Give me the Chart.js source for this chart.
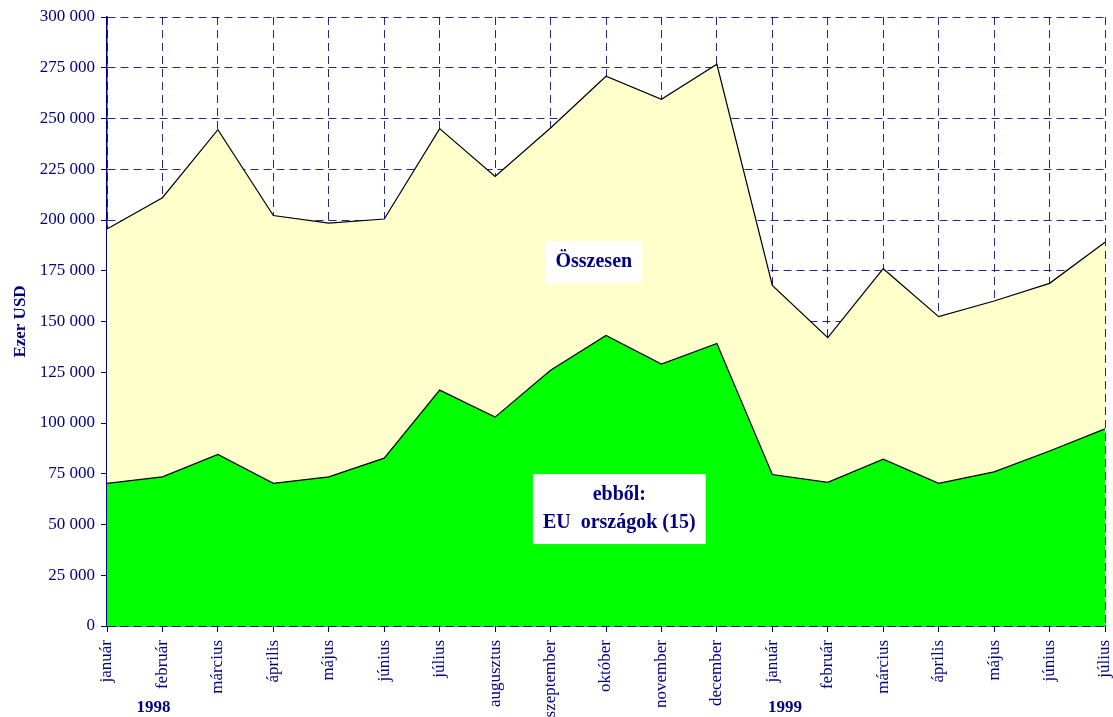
<!DOCTYPE html>
<html>
<head>
<meta charset="utf-8">
<script src="https://cdn.jsdelivr.net/npm/chart.js@4"></script>
<style>
  html, body { margin: 0; padding: 0; background: #fff; }
  #wrap { width: 1113px; height: 717px; }
</style>
</head>
<body>
<div id="wrap"><canvas id="chart" width="1113" height="717"></canvas></div>
<script>
// havi export, ezer USD

const months = ['január', 'február', 'március', 'április', 'május', 'június', 'július',
  'augusztus', 'szeptember', 'október', 'november', 'december',
  'január', 'február', 'március', 'április', 'május', 'június', 'július'];
const years = ['1998', '1999'];

const osszesen = [195600, 211000, 244500, 202200, 198500, 200500, 245000, 221500, 245300,
  270800, 259500, 276700, 167800, 142000, 176000, 152400, 160100, 168800, 189000];
const euOrszagok = [70300, 73500, 84500, 70300, 73500, 82700, 116200, 102900, 126000,
  143100, 129000, 139200, 74600, 70800, 82200, 70300, 75900, 86200, 97100];

const yMin = 0, yMax = 300000, yStep = 25000;

const NAVY = '#000080';
const SERIF = '"Liberation Serif", "Times New Roman", serif';

function fmt(v) {
  return String(v).replace(/\B(?=(\d{3})+(?!\d))/g, ' ');
}

// feliratok a diagramon belül (fehér dobozban) + évszámok a tengely alatt
const textPlugin = {
  id: 'texts',
  afterDraw(chart, args, opts) {
    const { ctx, scales: { x, y } } = chart;
    ctx.save();
    ctx.font = 'bold 20px ' + SERIF;
    ctx.textAlign = 'center';
    ctx.textBaseline = 'middle';
    opts.boxes.forEach(b => {
      const cx = x.getPixelForValue(b.at[0]);
      const cy = y.getPixelForValue(b.at[1]);
      const lh = 28;
      const w = Math.max(...b.lines.map(l => ctx.measureText(l).width)) + 20;
      const h = b.lines.length * lh + 14;
      ctx.fillStyle = '#fff';
      ctx.fillRect(cx - w / 2, cy - h / 2, w, h);
      ctx.fillStyle = NAVY;
      b.lines.forEach((l, i) => {
        ctx.fillText(l, cx, cy - (b.lines.length - 1) * lh / 2 + i * lh);
      });
    });
    ctx.font = 'bold 17px ' + SERIF;
    years.forEach((yr, i) => {
      ctx.fillText(yr, x.getPixelForValue(opts.yearAt[i]), 708);
    });
    ctx.restore();
  }
};

new Chart(document.getElementById('chart'), {
  type: 'line',
  data: {
    labels: months,
    datasets: [
      {
        label: 'ebből: EU országok (15)',
        data: euOrszagok,
        backgroundColor: '#00ff00',
        borderColor: '#000',
        borderWidth: 1.2,
        fill: 'origin',
        pointRadius: 0,
        tension: 0,
      },
      {
        label: 'Összesen',
        data: osszesen,
        backgroundColor: '#ffffcc',
        borderColor: '#000',
        borderWidth: 1.2,
        fill: 'origin',
        pointRadius: 0,
        tension: 0,
      },
    ],
  },
  options: {
    responsive: false,
    animation: false,
    layout: { padding: { top: 17, right: 8, left: 0, bottom: 0 } },
    plugins: {
      legend: { display: false },
      tooltip: { enabled: false },
      texts: {
        boxes: [
          { at: [8.78, 179300], lines: ['Összesen'] },
          { at: [9.24, 57600], lines: ['ebből:', 'EU  országok (15)'] },
        ],
        yearAt: [0.84, 12.23],
      },
    },
    scales: {
      x: {
        offset: false,
        grid: {
          color: 'rgba(0,0,128,0.85)',
          tickColor: NAVY,
          tickLength: 6,
          tickBorderDash: [],
        },
        border: { color: NAVY, width: 1.5, dash: [8, 5] },
        ticks: {
          color: NAVY,
          font: { family: SERIF, size: 17 },
          maxRotation: 90,
          minRotation: 90,
          autoSkip: false,
          padding: 8,
        },
        afterFit(scale) {
          scale.height = 91;
          scale.paddingRight = 0;
          scale.paddingLeft = 0;
        },
      },
      y: {
        min: yMin,
        max: yMax,
        grid: {
          color: 'rgba(0,0,128,0.85)',
          tickColor: NAVY,
          tickLength: 6,
          tickBorderDash: [],
        },
        border: { color: NAVY, width: 1.5, dash: [8, 5] },
        ticks: {
          stepSize: yStep,
          color: NAVY,
          font: { family: SERIF, size: 17 },
          padding: 6,
          callback: v => fmt(v),
        },
        title: {
          display: true,
          text: 'Ezer USD',
          color: NAVY,
          font: { family: SERIF, size: 17, weight: 'bold' },
          padding: { top: 10, bottom: 0 },
        },
        afterFit(scale) { scale.width = 107; },
      },
    },
  },
  plugins: [textPlugin],
});
</script>
</body>
</html>
